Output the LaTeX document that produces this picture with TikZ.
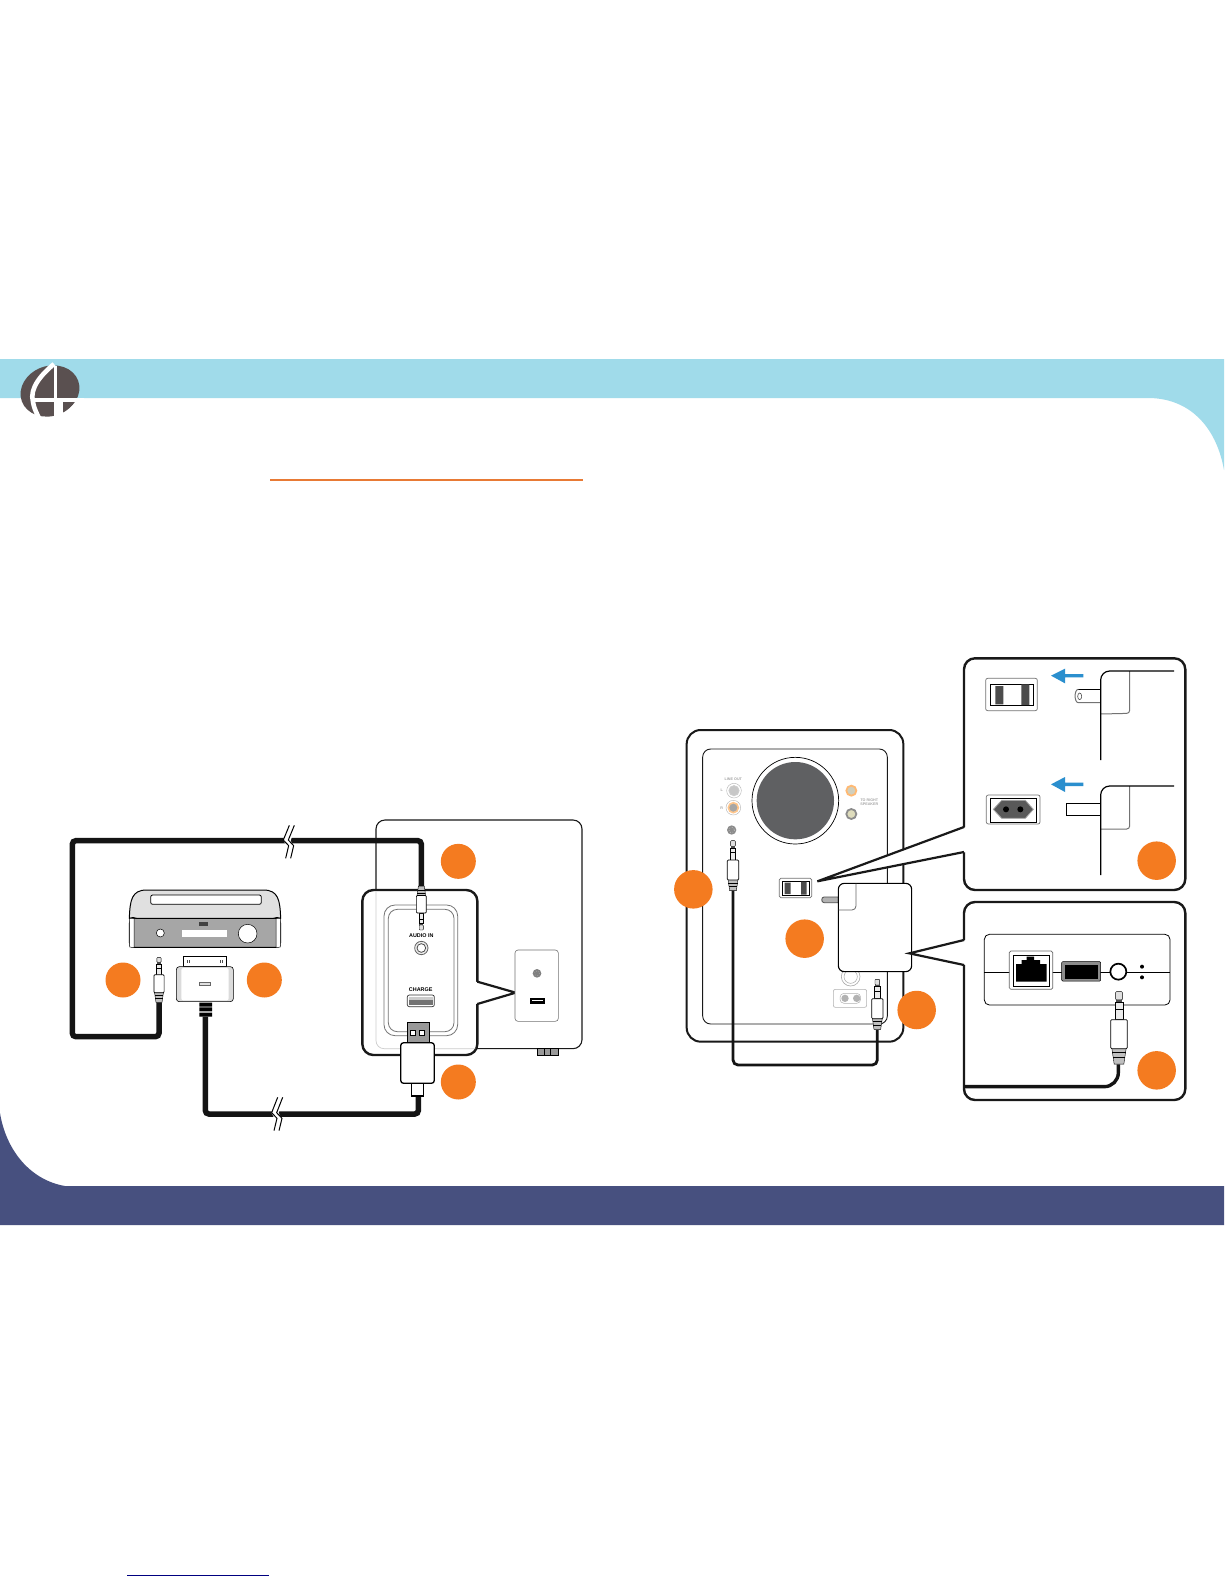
\documentclass[tikz,border=0pt]{standalone}
\usepackage{fontspec}
\setmainfont{Liberation Sans}
\definecolor{bandblue}{HTML}{A0DBEA}
\definecolor{navyband}{HTML}{47507F}
\definecolor{badgeor}{HTML}{F47B20}
\definecolor{ruleor}{HTML}{E87A35}
\definecolor{arrowblue}{HTML}{2B8FCE}
\definecolor{logobrown}{HTML}{5A5050}
\definecolor{darkfill}{HTML}{5F6062}
\tikzset{
  badge/.style={circle,fill=badgeor,draw=none,inner sep=0pt,minimum size=#1},
  badge/.default=35pt,
  wire/.style={line width=#1,black!92,rounded corners=3.5pt},
  panelbox/.style={draw=black!90,fill=white,line width=2.4pt,rounded corners=11pt},
  pointerline/.style={draw=black!90,line width=2.2pt,miter limit=10},
  breakmark/.style={draw=black,line width=1pt},
  tinybold/.style={font=\fontsize{5.4}{6}\selectfont\bfseries,inner sep=0pt},
  faintlabel/.style={font=\fontsize{3.7}{4.3}\selectfont\bfseries,text=black!35,inner sep=0pt,align=center},
  jack/.pic={
    \draw[fill=black!12,line width=.4pt,rounded corners=.8pt] (-7,0) rectangle (7,17);
    \fill[black!70] (-7,17) rectangle (7,22);
    \draw[fill=black!8,line width=.4pt] (-8,22) rectangle (8,58);
    \draw[line width=.5pt] (-8,36) -- (8,36);
    \draw[fill=black!25,line width=.4pt] (-15,116) -- (15,116) -- (10,150) -- (-10,150) -- cycle;
    \draw[line width=.3pt] (-14,126) -- (14,126) (-12,136) -- (12,136);
    \draw[fill=white,line width=.7pt,rounded corners=1pt] (-17,58) rectangle (17,118);
  }
}
\begin{document}
\begin{tikzpicture}[x=1pt,y=-1pt]
\useasboundingbox (0,0) rectangle (1224,1584);
\fill[white] (0,0) rectangle (1224,1584);
% bands
\fill[bandblue] (0,359) -- (1224,359) -- (1224,470) .. controls (1216,425) and (1188,398) .. (1148,398) -- (0,398) -- cycle;
\fill[navyband] (0,1225) -- (1224,1225) -- (1224,1186) -- (65,1186) .. controls (30,1180) and (6,1150) .. (0,1113) -- cycle;
% logo
\begin{scope}
\fill[logobrown,rotate around={20:(50,391)}] (50,391) ellipse (30pt and 25pt);
\draw[white,line width=4.6pt] (54,364) .. controls (42,374) and (29,388) .. (33,402) .. controls (34,408) and (36,412) .. (39,418);
\draw[white,line width=3pt] (55,366) -- (55,400);
\draw[white,line width=3.6pt] (34,400) -- (84,400);
\fill[white] (54,400) rectangle (63,419);
\fill[white] (63,415) -- (75,403) -- (84,419) -- (63,419) -- cycle;
\end{scope}
\draw[ruleor,line width=2pt] (270,479.5) -- (583,479.5);
\draw[blue!50!black,line width=1pt] (127,1575.3) -- (269,1575.3);

% ---------- left: speaker back and callout
\begin{scope}[shift={(350,810)},scale=1/3]
\draw[black!90,line width=1.1pt,rounded corners=9pt] (78,260) -- (78,30) -- (696,30) -- (696,716) -- (370,716);
\foreach \xx in {570,590,610} \draw[line width=.6pt,fill=black!40] (\xx-8,716) rectangle (\xx+14,737);
\draw[panelbox] (37,240) rectangle (382,735);
\fill[white] (377,515) -- (497,548) -- (377,582) -- cycle;
\draw[pointerline] (382,515) -- (497,548) -- (382,582);
\draw[black!20,line width=.7pt,rounded corners=8pt] (78,245) -- (78,716) -- (376,716);
\draw[black!55,line width=.8pt,rounded corners=11pt] (102,285) rectangle (323,677);
\draw[black!55,line width=.8pt,rounded corners=9pt] (115,298) rectangle (312,665);
\node[tinybold] (audiolabel) at (214,377) {AUDIO IN};
\draw[black!60,line width=.8pt,fill=black!8] (214,414) circle (20);
\draw[black!70,line width=.8pt,fill=white] (214,414) circle (13);
\node[tinybold] (chargelabel) at (212,540) {CHARGE};
\draw[black!80,line width=.7pt,rounded corners=2pt] (172,555) rectangle (253,590);
\fill[black!55] (178,562) rectangle (248,584);
\fill[black!20] (178,562) rectangle (248,570);
\draw[black!55,fill=white,line width=.6pt,rounded corners=3pt] (495,420) rectangle (625,634);
\fill[black!50] (561,490) circle (13);
\draw[black!25,dotted,line width=.5pt] (561,490) circle (7);
\fill[black] (540,565) rectangle (585,581);
\fill[white] (546,571) rectangle (579,572.5);
\coordinate (audioplug) at (214,228);
\coordinate (usbtail) at (205,858);
\node[badge] (b3) at (325,154) {};
\node[badge] (b4) at (325,816) {};
\end{scope}

% ---------- left: dock and adapter
\begin{scope}[shift={(60,810)},scale=1/3]
\draw[fill=black!35,line width=1pt,rounded corners=5pt] (208,325) rectangle (662,412);
\draw[fill=black!12,line width=1pt] (208,325) .. controls (210,270) and (215,240) .. (260,240) -- (610,240) .. controls (655,240) and (660,270) .. (662,325) .. controls (650,322) .. (640,325) -- (230,325) .. controls (220,322) .. (208,325) -- cycle;
\draw[fill=white,line width=.5pt] (208,325) -- (222,325) -- (222,412) -- (215,412) .. controls (209,412) .. (208,405) -- cycle;
\draw[fill=white,line width=.5pt] (662,325) -- (648,325) -- (648,412) -- (655,412) .. controls (661,412) .. (662,405) -- cycle;
\draw[fill=white,line width=.8pt,rounded corners=2pt] (272,255) rectangle (604,283);
\fill[black!75] (418,337) rectangle (443,347);
\draw[fill=white,line width=.5pt] (301,369) circle (12);
\fill[white] (365,360) rectangle (500,382);
\draw[fill=white,line width=.5pt] (563,371) circle (28);
% adapter
\draw[fill=white,line width=1pt] (370,440) rectangle (500,470);
\draw[black!70,line width=1pt] (382,450) -- (382,458) (388,450) -- (388,458) (480,450) -- (480,458) (486,450) -- (486,458);
\draw[fill=black!14,line width=.6pt,rounded corners=3pt] (349,470) rectangle (520,575);
\fill[white,rounded corners=2pt] (364,474) -- (506,474) -- (506,571) -- (364,571) -- cycle;
\fill[black!60] (418,516) rectangle (452,528);
\fill[black!12] (421,519) rectangle (449,525);
\fill[black] (418,578) rectangle (456,590) (418,592) rectangle (456,604) (418,608) rectangle (456,620);
\coordinate (adaptertail) at (436,620);
% cables
\coordinate (jackonetail) at (297,578);
\coordinate (jackonecorner) at (37,680);
\coordinate (upperbreak) at (685,92);
\coordinate (lowerbreak) at (650,912);
\node[badge] (b1) at (189,510) {};
\node[badge] (b2) at (613,510) {};
\end{scope}
% audio cable
\draw[wire=5.5pt] (jackonetail) |- (jackonecorner) |- (upperbreak) -| (audioplug);
\draw[wire=5.5pt] (adaptertail) |- (lowerbreak) -| (usbtail);
% cable breaks
\begin{scope}[shift={(60,810)},scale=1/3]
\fill[white] (686,46) -- (670,90) -- (680,108) -- (676,146) -- (696,146) -- (700,108) -- (692,92) -- (706,48) -- cycle;
\draw[breakmark] (688,46) -- (670,90) -- (686,107) -- (677,145);
\draw[breakmark] (703,46) -- (685,90) -- (701,107) -- (692,145);
\fill[white] (652,863) -- (634,908) -- (644,926) -- (640,962) -- (660,962) -- (664,926) -- (656,908) -- (670,865) -- cycle;
\draw[breakmark] (653,862) -- (635,908) -- (651,925) -- (642,962);
\draw[breakmark] (668,862) -- (650,908) -- (666,925) -- (657,962);
\pic at (297,442) [scale=.3] {jack};
\end{scope}
% plugs over the callout
\begin{scope}[shift={(350,810)},scale=1/3]
\pic at (214,360) [rotate=180,scale=.293] {jack};
\draw[fill=white,line width=1.1pt] (185,815) rectangle (220,858);
\draw[fill=black!40,line width=.8pt] (172,637) rectangle (238,700);
\draw[fill=white,line width=.6pt] (181,660) rectangle (197,675) (208,660) rectangle (224,675);
\draw[fill=white,line width=1.3pt,rounded corners=3pt] (152,698) -- (253,698) -- (253,820) -- (152,820) -- cycle;
\end{scope}

% ---------- right: speaker
\begin{scope}[shift={(660,720)},scale=1/3]
\draw[fill=white,draw=black!90,line width=2pt,rounded corners=14pt] (80,30) rectangle (730,965);
\draw[draw=black!90,line width=.9pt,rounded corners=8pt] (128,87) rectangle (682,912);
\draw[line width=.7pt] (406,242) circle (130);
\fill[darkfill] (406,242) circle (116);
\draw[black!30,line width=.4pt,fill=white] (222,212) circle (22);
\draw[black!20,line width=1pt,fill=black!22] (222,212) circle (15);
\draw[black!30,line width=.4pt,fill=white] (220,263) circle (22);
\draw[orange!45!white,line width=1.6pt,fill=black!35] (220,263) circle (15);
\draw[orange!55!white,line width=1.8pt,fill=yellow!30!black!30] (574,212) circle (15);
\draw[black!45,line width=1.8pt,fill=yellow!50!black!30] (574,282) circle (15);
\node[faintlabel] (lineout) at (220,178) {LINE OUT};
\node[faintlabel] (lmark) at (185,210) {L};
\node[faintlabel] (rmark) at (185,264) {R};
\node[faintlabel] (tospeaker) at (628,247) {TO RIGHT\\SPEAKER};
\fill[black!45] (215,330) circle (14);
\draw[white,dotted,line width=.5pt] (215,330) circle (8);
\draw[black!55,fill=white,line width=.7pt,rounded corners=1.5pt] (358,475) rectangle (455,533);
\draw[black,fill=white,line width=1pt] (368,484) rectangle (447,525);
\fill[black!70] (374,488) rectangle (392,522) (423,485) rectangle (440,524);
% bottom ports
\draw[black!35,line width=.6pt] (572,770) circle (28);
\draw[black!35,line width=.5pt] (572,770) circle (20);
\draw[black!30,line width=.6pt,rounded corners=2pt] (520,808) rectangle (620,862);
\draw[black!30,line width=.5pt,rounded corners=4pt] (540,820) rectangle (602,850);
\fill[black!30] (555,835) circle (11) (590,835) circle (11);
\coordinate (jacklefttail) at (219,512);
\coordinate (jackrighttail) at (652,930);
\coordinate (cablebottom) at (219,1035);
\node[badge=38.5pt] (b5) at (100,508) {};
\node[badge=38.5pt] (b6) at (434,656) {};
\coordinate (switchtip) at (472,484);
\coordinate (adaptertip) at (748,700);
\end{scope}
\draw[wire=2.8pt,rounded corners=5pt] (jacklefttail) -- (cablebottom) -| (jackrighttail);
\begin{scope}[shift={(660,720)},scale=1/3]
\pic at (219,362) [scale=1/3] {jack};
\pic at (652,778) [scale=1/3] {jack};
\end{scope}

% ---------- top right callout
\draw[panelbox] (964,658.3) rectangle (1185.3,890);
\coordinate (panelonea) at (964,827);
\coordinate (paneloneb) at (964,852);
\fill[white] (966,827) -- (switchtip) -- (966,852) -- cycle;
\draw[pointerline] (panelonea) -- (switchtip) -- (paneloneb);
\begin{scope}[shift={(950,650)},scale=1/3]
\draw[black!55,fill=white,line width=.7pt,rounded corners=2pt] (107,85) rectangle (262,182);
\draw[black,fill=white,line width=1pt] (122,102) rectangle (250,166);
\fill[black!70] (136,108) rectangle (160,163) (214,103) rectangle (238,165);
\draw[black!55,fill=white,line width=.7pt,rounded corners=2pt] (109,435) rectangle (270,522);
\draw[black,fill=white,line width=1pt] (122,445) rectangle (260,517);
\draw[black!35,fill=black!65,line width=.8pt] (130,478) -- (155,451) -- (226,451) -- (250,478) -- (226,505) -- (155,505) -- cycle;
\fill[black] (168,478) circle (9) (211,478) circle (9);
% blue arrows
\fill[arrowblue] (400,72) -- (345,72) -- (345,56) -- (303,77) -- (345,100) -- (345,82) -- (400,82) -- cycle;
\fill[arrowblue] (400,398) -- (345,398) -- (345,381) -- (303,403) -- (345,426) -- (345,408) -- (400,408) -- cycle;
% plug with flat blades
\draw[black!55,line width=1pt,rounded corners=3pt] (539,63) -- (539,190) -- (452,192);
\draw[black,line width=1pt,rounded corners=3pt] (385,118) -- (452,118);
\draw[black!55,line width=1pt] (452,158) -- (385,158) .. controls (372,158) and (372,118) .. (385,118);
\draw[black!70,line width=.6pt] (389,139) ellipse (6 and 10);
\draw[black,line width=1.2pt,rounded corners=9pt] (452,330) -- (452,63) -- (672,63);
% plug with round pins
\draw[black!55,line width=1pt,rounded corners=3pt] (539,408) -- (539,537) -- (452,537);
\draw[black,fill=white,line width=.9pt] (349,461) rectangle (452,497);
\draw[black,line width=1.2pt,rounded corners=9pt] (452,675) -- (452,408) -- (672,408);
\node[badge=38.5pt] (b7) at (620,632) {};
\end{scope}

% ---------- power adapter
\begin{scope}[shift={(660,720)},scale=1/3]
\draw[black!70,line width=.8pt,fill=black!30] (492,531) -- (535,531) -- (535,548) -- (492,548) .. controls (483,548) and (483,531) .. (492,531);
\draw[fill=white,draw=black,line width=1.1pt,rounded corners=6pt] (535,490) rectangle (755,755);
\draw[black!60,line width=.8pt,rounded corners=4pt] (588,491) -- (588,570) -- (536,570);
\node[badge=38.5pt] (b8) at (770,870) {};
\end{scope}
\draw[panelbox] (964,902) rectangle (1185.3,1100);
\coordinate (paneltwoa) at (964,940);
\coordinate (paneltwob) at (964,965);
\fill[white] (966,940) -- (adaptertip) -- (966,965) -- cycle;
\draw[pointerline] (paneltwoa) -- (adaptertip) -- (paneltwob);
\begin{scope}[shift={(950,890)},scale=1/3]
\draw[draw=black,fill=white,line width=.8pt,rounded corners=5pt] (103,133) rectangle (660,345);
\draw[line width=.6pt] (103,247) -- (660,247);
\draw[black!60,fill=white,line width=.7pt,rounded corners=1.5pt] (178,183) rectangle (308,298);
\draw[black,fill=white,line width=.8pt] (190,195) rectangle (298,288);
\fill[black] (198,222) -- (215,222) -- (215,210) -- (230,210) -- (230,200) -- (252,200) -- (252,210) -- (270,210) -- (270,222) -- (290,222) -- (290,275) -- (198,275) -- cycle;
\draw[black,fill=black!45,line width=.5pt,rounded corners=1pt] (335,215) rectangle (452,273);
\fill[black] (345,225) rectangle (445,268);
\draw[fill=white,line width=1.7pt] (505,245) circle (24);
\fill[black] (576,230) circle (6) (576,262) circle (6);
\coordinate (ethjacktail) at (505,523);
\coordinate (ethcablecorner) at (505,590);
\coordinate (ethcableend) at (43,590);
\node[badge=38.5pt] (b9) at (620,541) {};
\end{scope}
\draw[wire=3.4pt,rounded corners=14pt] (ethjacktail) -- (ethcablecorner) -- (ethcableend);
\begin{scope}[shift={(950,890)},scale=1/3]
\pic at (507,305) [scale=.483] {jack};
\end{scope}
\end{tikzpicture}
\end{document}
